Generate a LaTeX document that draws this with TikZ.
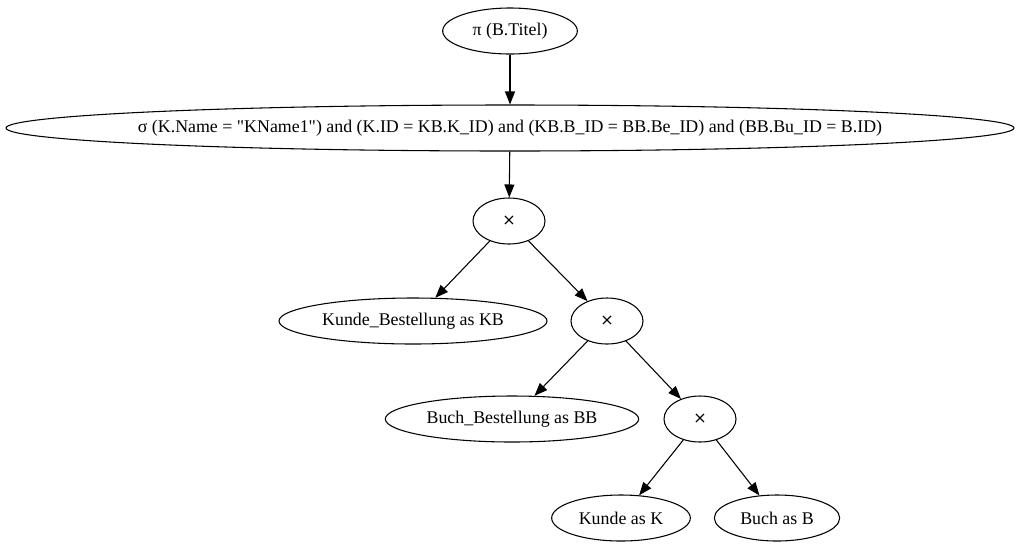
\documentclass[tikz,border=0pt]{standalone}
\usepackage{fontspec}
\newfontfamily\relfont{Liberation Serif}
\newfontfamily\symfont{DejaVu Sans}
\usetikzlibrary{shapes.geometric, arrows.meta}

\tikzset{
  rel/.style={draw, ellipse, line width=0.8pt, inner sep=0pt, minimum height=34.5pt,
    font=\relfont\fontsize{13.4}{16}\selectfont},
  crossop/.style={rel, minimum width=54pt, font=\symfont\fontsize{12}{14}\selectfont},
  arr/.style={draw, line width=0.8pt, -{Triangle[length=9.75pt,width=7.5pt]}}
}

\begin{document}
\begin{tikzpicture}[x=0.75pt, y=-0.75pt]
\useasboundingbox (0,0) rectangle (1019,547);
\node[rel, minimum width=101pt] (proj) at (510,31) {π (B.Titel)};
\node[rel, minimum width=756pt, inner xsep=-25pt] (sel) at (510,128) {σ (K.Name = "KName1") and (K.ID = KB.K\_ID) and (KB.B\_ID = BB.Be\_ID) and (BB.Bu\_ID = B.ID)};
\node[crossop] (x1) at (509,221) {×};
\node[rel, minimum width=201pt] (kb) at (413,321) {Kunde\_Bestellung as KB};
\node[crossop] (x2) at (607,321) {×};
\node[rel, minimum width=190pt] (bb) at (512,419) {Buch\_Bestellung as BB};
\node[crossop] (x3) at (700,419) {×};
\node[rel, minimum width=104pt] (k) at (621,518) {Kunde as K};
\node[rel, minimum width=94pt] (b) at (777,518) {Buch as B};

\draw[arr] (proj) -- (sel);
\draw[arr] (sel) -- (x1);
\draw[arr] (x1) -- (kb);
\draw[arr] (x1) -- (x2);
\draw[arr] (x2) -- (bb);
\draw[arr] (x2) -- (x3);
\draw[arr] (x3) -- (k);
\draw[arr] (x3) -- (b);
\end{tikzpicture}
\end{document}
